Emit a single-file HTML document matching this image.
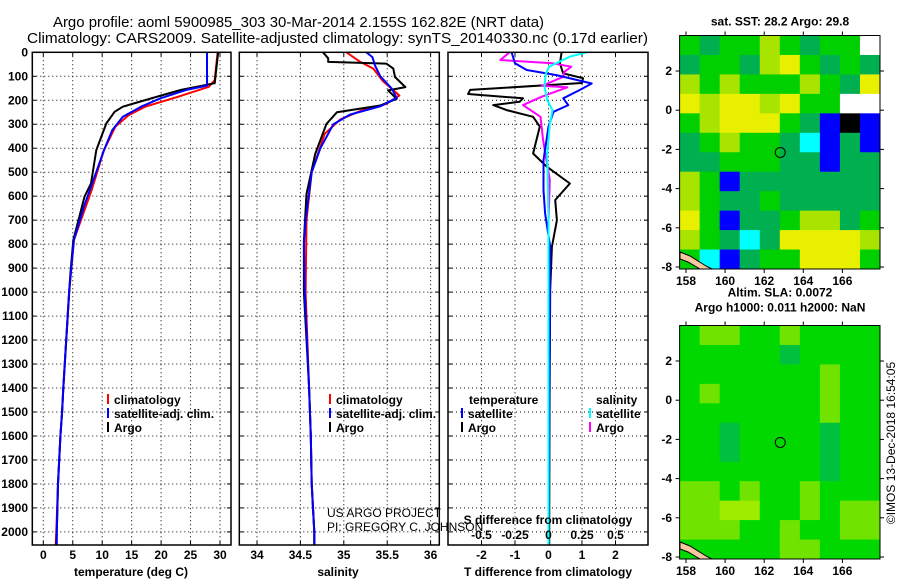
<!DOCTYPE html>
<html><head><meta charset="utf-8"><style>
html,body{margin:0;padding:0;background:#fff}
svg{display:block}
text{font-family:"Liberation Sans",sans-serif;fill:#000}
.b{font-weight:bold;font-size:12px}
</style></head><body>
<svg id="c" width="900" height="580" viewBox="0 0 900 580" xmlns="http://www.w3.org/2000/svg">
<text x="53" y="27" font-size="15" textLength="491" lengthAdjust="spacingAndGlyphs">Argo profile: aoml 5900985_303 30-Mar-2014 2.155S 162.82E (NRT data)</text>
<text x="27" y="43" font-size="15" textLength="621" lengthAdjust="spacingAndGlyphs">Climatology: CARS2009. Satellite-adjusted climatology: synTS_20140330.nc (0.17d earlier)</text>
<g id="layer"></g>
</svg>
<script>
// ---- data ----
const depthTicks=[0,100,200,300,400,500,600,700,800,900,1000,1100,1200,1300,1400,1500,1600,1700,1800,1900,2000];
const tempTicks=[0,5,10,15,20,25,30];
const salTicks=[34,34.5,35,35.5,36];
const tdiffTicks=[-2,-1,0,1,2];
const sdiffTicks=[-0.5,-0.25,0,0.25,0.5];
const sdiffLabels=["-0.5","-0.25","0","0.25","0.5"];
const tempDepth=[0,129,157,178,227,248,297,408,547,602,783,922,1000,1400,1500,1600,1800,2000,2055];
const tempArgo=[29.7,29.1,23.4,20.3,13.5,12.1,10.7,9.0,8.1,7.0,5.1,4.6,4.4,3.4,3.2,2.9,2.5,2.3,2.2];
const climDepth=[0,116,144,185,227,262,311,408,575,783,1000,1400,1500,1600,1800,2000,2055];
const tempClim=[29.6,29.1,28.1,22.9,17.3,14.5,12.2,10.3,8.2,5.2,4.4,3.4,3.2,2.9,2.5,2.2,2.1];
const satDepth=[0,139,157,192,227,269,325,408,533,644,783,991,1400,1500,1600,1800,2000,2055];
const tempSat=[27.8,27.8,24.3,19.9,16.6,13.5,11.7,10.3,8.5,6.9,5.2,4.4,3.4,3.2,2.9,2.5,2.3,2.3];
const salArgoDepth=[0,25,40,47,68,103,145,159,194,222,250,299,424,591,785,1000,1400,1600,1800,2000,2055];
const salArgo=[34.76,34.82,34.82,35.49,35.57,35.59,35.71,35.51,35.61,35.42,34.92,34.80,34.67,34.57,34.54,34.54,34.60,34.62,34.63,34.66,34.66];
const salClimDepth=[0,40,68,120,180,215,240,280,340,500,700,1000,1400,1600,1800,2000,2055];
const salClim=[35.03,35.19,35.34,35.45,35.64,35.49,35.22,34.96,34.78,34.63,34.57,34.56,34.60,34.62,34.63,34.66,34.66];
const salSatDepth=[0,20,55,100,150,190,225,260,300,400,500,700,800,1000,1400,1600,1800,2000,2055];
const salSat=[35.26,35.33,35.36,35.42,35.55,35.61,35.42,35.07,34.88,34.73,34.63,34.56,34.54,34.55,34.60,34.62,34.63,34.66,34.66];
const dTArgoDepth=[0,46,88,108,128,157,174,192,206,220,241,269,310,422,477,547,616,700,811,991,1500,2055];
const dTArgo=[0.39,0.34,0.44,1.03,1.0,-2.34,-2.4,-0.76,-0.86,-1.65,-1.25,-0.46,-0.26,-0.46,-0.05,0.64,0.2,0.25,0.1,0.05,0.03,0.02];
const dTSatDepth=[0,46,74,95,130,157,192,220,248,310,450,575,672,811,1500,2055];
const dTSat=[-1.1,-1.0,-0.65,0.24,1.29,0.94,0.44,0.59,0.15,0,-0.15,-0.15,-0.1,0.05,0.02,0];
const dSArgoDepth=[0,32,46,60,81,102,140,146,185,220,269,366,533,700,1500,2055];
const dSArgo=[-0.29,-0.36,0.03,0.17,0.12,0.11,-0.05,0.14,-0.05,-0.19,-0.06,-0.04,0.01,0,0,0];
const dSSatDepth=[0,18,60,88,143,199,241,300,420,700,1500,2055];
const dSSat=[0.285,0.16,0.005,-0.02,-0.03,-0.01,0.03,0.01,-0.01,0,0,0];
const mapLon=[158,160,162,164,166];
const mapLat=[2,0,-2,-4,-6,-8];
const sstGrid=["gdgglgdggw","dggdlygdgd","lglggglgdy","ylyylyggww","glyyygdbkb","dglggdcbdb","ddgggddbdd","lgbddddddd","lgddgddddd","ygbddglldg","lgdcdyyyyl","gcbdggyyyg"];
const slaGrid=["GLLGGLGGGG","GGGGGDGGGG","GGGGGGGLGG","GLGGGGGLGG","GGGGGGGLGG","GGDGGGGDGG","GGDGGGGDGG","GGGGGGGDGG","LLGLGGLGGG","LLYYGGLGLL","LLLGGLGGLL","GGGGGLLGGG"];
const argoLon=162.82, argoLat=-2.155;

// ---- helpers ----
const NS="http://www.w3.org/2000/svg";
const L=document.getElementById('layer');
function mk(tag,attrs,parent){const e=document.createElementNS(NS,tag);for(const k in attrs)e.setAttribute(k,attrs[k]);(parent||L).appendChild(e);return e;}
const yd=d=>52.3+0.2398*d;
const tx=t=>43.3+5.89*t;
const sx=s=>257+86.8*(s-34);
const dT=t=>548.5+33.5*t;
const dS=s=>548.5+134*s;
const TOP=52.3,BOT=545;
const panels=[{x0:32.3,x1:231,name:'temperature-panel'},{x0:239.3,x1:439.3,name:'salinity-panel'},{x0:448,x1:648,name:'difference-panel'}];

function grid(p,xs){
  const g=mk('g',{});
  
  
  xs.forEach(x=>{mk('line',{x1:x,x2:x,y1:TOP,y2:BOT,stroke:'#000','stroke-width':1,'stroke-dasharray':'1,3'},g);});
  depthTicks.forEach(d=>{if(d===0)return;const y=yd(d);mk('line',{x1:p.x0,x2:p.x1,y1:y,y2:y,stroke:'#000','stroke-width':1,'stroke-dasharray':'1,3'},g);
    mk('line',{x1:p.x0,x2:p.x0+4,y1:y,y2:y,stroke:'#000'},g);mk('line',{x1:p.x1-4,x2:p.x1,y1:y,y2:y,stroke:'#000'},g);});
  xs.forEach(x=>{mk('line',{x1:x,x2:x,y1:TOP,y2:TOP+4,stroke:'#000'},g);mk('line',{x1:x,x2:x,y1:BOT-4,y2:BOT,stroke:'#000'},g);});
}
grid(panels[0],tempTicks.map(tx));
grid(panels[1],salTicks.map(sx));
grid(panels[2],tdiffTicks.map(dT));

function line(xs,ds,fx,color,name){
  const pts=xs.map((v,i)=>fx(v).toFixed(1)+','+yd(ds[i]).toFixed(1)).join(' ');
  const e=mk('polyline',{points:pts,fill:'none',stroke:color,'stroke-width':2,'stroke-linejoin':'round'});
  
  
}
line(tempClim,climDepth,tx,'#ff0000','temp-climatology-line');
line(tempArgo,tempDepth,tx,'#000000','temp-argo-line');
line(tempSat,satDepth,tx,'#0000ff','temp-satellite-line');
line(salClim,salClimDepth,sx,'#ff0000','sal-climatology-line');
line(salArgo,salArgoDepth,sx,'#000000','sal-argo-line');
line(salSat,salSatDepth,sx,'#0000ff','sal-satellite-line');
line(dTArgo,dTArgoDepth,dT,'#000000','tdiff-argo-line');
line(dSArgo,dSArgoDepth,dS,'#ff00ff','sdiff-argo-line');
line(dTSat,dTSatDepth,dT,'#0000ff','tdiff-satellite-line');
line(dSSat,dSSatDepth,dS,'#00ffff','sdiff-satellite-line');

panels.forEach(p=>{const r=mk('rect',{x:p.x0,y:TOP,width:p.x1-p.x0,height:BOT-TOP,fill:'none',stroke:'#000','stroke-width':1.5});
  
  });

function txt(s,x,y,opt,name){const e=mk('text',Object.assign({x:x,y:y},opt||{}));e.textContent=s;return e;}
depthTicks.forEach(d=>txt(String(d),28,yd(d)+4,{class:'b','text-anchor':'end'},'depth-tick-label'));
tempTicks.forEach(t=>txt(String(t),tx(t),559,{class:'b','text-anchor':'middle'},'temp-tick-label'));
salTicks.forEach(s=>txt(String(s),sx(s),559,{class:'b','text-anchor':'middle'},'sal-tick-label'));
tdiffTicks.forEach(t=>txt(String(t),dT(t),559,{class:'b','text-anchor':'middle'},'tdiff-tick-label'));
sdiffTicks.forEach((s,i)=>txt(sdiffLabels[i],dS(s),539,{class:'b','text-anchor':'middle'},'sdiff-tick-label'));
txt('temperature (deg C)',131,576,{class:'b','text-anchor':'middle'},'temp-axis-title');
txt('salinity',338,576,{class:'b','text-anchor':'middle'},'sal-axis-title');
txt('T difference from climatology',548,576,{class:'b','text-anchor':'middle'},'tdiff-axis-title');
txt('S difference from climatology',548,524,{class:'b','text-anchor':'middle'},'sdiff-axis-title');
txt('US ARGO PROJECT',327,517,{'font-size':12},'project-credit');
txt('PI: GREGORY C. JOHNSON',327,531,{'font-size':12},'pi-credit');

function leg(x,y,color,label,name){
  const g=mk('g',{});
  mk('line',{x1:x,x2:x,y1:y-10,y2:y,stroke:color,'stroke-width':2},g);
  const t=mk('text',{x:x+6,y:y,class:'b'},g);t.textContent=label;
}
leg(108,404,'#ff0000','climatology','legend-climatology');
leg(108,418,'#0000ff','satellite-adj. clim.','legend-satellite');
leg(108,432,'#000000','Argo','legend-argo');
leg(330,404,'#ff0000','climatology','legend-sal-climatology');
leg(330,418,'#0000ff','satellite-adj. clim.','legend-sal-satellite');
leg(330,432,'#000000','Argo','legend-sal-argo');
txt('temperature',469,404,{class:'b'},'legend-temperature-heading');
leg(462,418,'#0000ff','satellite','legend-t-satellite');
leg(462,432,'#000000','Argo','legend-t-argo');
txt('salinity',596,404,{class:'b'},'legend-salinity-heading');
leg(590,418,'#00ffff','satellite','legend-s-satellite');
leg(590,432,'#ff00ff','Argo','legend-s-argo');

// ---- maps ----
const SSTC={g:'#00d000',d:'#00b050',l:'#a8e400',y:'#e8f000',c:'#00ffff',b:'#0000ff',w:'#ffffff',k:'#000000'};
const SLAC={G:'#00d800',L:'#70e400',Y:'#a0ec00',D:'#00c040'};
function map(top,grd,cols,name,title1,title2){
  const X0=679.6,X1=880,Y0=top,Y1=top+233.5;
  const mx=lon=>686+19.55*(lon-158);
  const my=lat=>Y0+35.5+19.6*(2-lat);
  const g=mk('g',{});
  const nr=grd.length,nc=grd[0].length,cw=(X1-X0)/nc,ch=(Y1-Y0)/nr;
  grd.forEach((row,r)=>{for(let c=0;c<nc;c++){mk('rect',{x:X0+c*cw,y:Y0+r*ch,width:cw+0.5,height:ch+0.5,fill:cols[row[c]]},g);}});
  const co=mk('polygon',{points:[[680,Y1-17],[690,Y1-13],[706,Y1-3],[712,Y1],[700,Y1],[688,Y1-7],[680,Y1-10]].map(p=>p.join(',')).join(' '),fill:'#f5c8a0',stroke:'#000','stroke-width':1},g);
  
  const ci=mk('circle',{cx:mx(argoLon),cy:my(argoLat),r:5,fill:'none',stroke:'#000','stroke-width':1},g);
  
  mk('rect',{x:X0,y:Y0,width:X1-X0,height:Y1-Y0,fill:'none',stroke:'#000','stroke-width':1},g);
  mapLon.forEach(lon=>{const x=mx(lon);mk('line',{x1:x,x2:x,y1:Y0-4,y2:Y0,stroke:'#000'},g);mk('line',{x1:x,x2:x,y1:Y1,y2:Y1+4,stroke:'#000'},g);
    txt(String(lon),x,Y1+16,{class:'b','text-anchor':'middle'},'map-lon-label');});
  mapLat.forEach(lat=>{const y=my(lat);mk('line',{x1:X0-4,x2:X0,y1:y,y2:y,stroke:'#000'},g);mk('line',{x1:X1,x2:X1+4,y1:y,y2:y,stroke:'#000'},g);
    txt(String(lat),672,y+4,{class:'b','text-anchor':'end'},'map-lat-label');});
  txt(title1,780,title2?top-29:top-10,{class:'b','text-anchor':'middle'},name+'-title');
  if(title2)txt(title2,780,top-14,{class:'b','text-anchor':'middle'},name+'-subtitle');
}
map(35.5,sstGrid,SSTC,'sst-map','sat. SST: 28.2 Argo: 29.8');
map(325.5,slaGrid,SLAC,'sla-map','Altim. SLA: 0.0072','Argo h1000: 0.011 h2000: NaN');
txt('©IMOS 13-Dec-2018 16:54:05',0,0,{'font-size':12,'text-anchor':'middle',transform:'translate(895,443) rotate(-90)'},'imos-timestamp');
</script>
</body></html>
